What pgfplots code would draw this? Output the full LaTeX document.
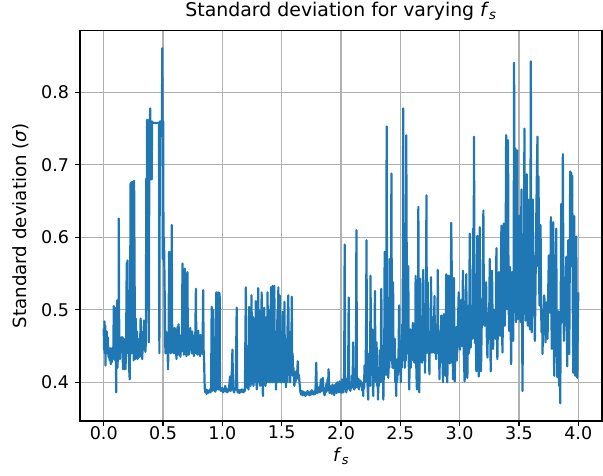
\documentclass[border=0pt]{standalone}
\usepackage{fontspec}
\setmainfont{DejaVu Sans}
\usepackage{pgfplots}
\pgfplotsset{compat=1.18}
\definecolor{mplblue}{HTML}{1F77B4}
\definecolor{mplgrid}{HTML}{B0B0B0}
\begin{document}
\fontsize{17.5}{21}\selectfont
\begin{tikzpicture}
\begin{axis}[
  scale only axis, width=522pt, height=390.5pt,
  xmin=-0.2, xmax=4.2, ymin=0.3465, ymax=0.8855,
  xtick={0,0.5,1,1.5,2,2.5,3,3.5,4},
  ytick={0.4,0.5,0.6,0.7,0.8},
  tick pos=left, tick align=outside,
  major tick length=5pt,
  every tick/.style={black, line width=1.17pt},
  axis line style={line width=1.17pt},
  grid=major, grid style={mplgrid, line width=1.17pt},
  /pgf/number format/.cd, fixed, fixed zerofill, precision=1, assume math mode=true,
  /pgfplots/.cd,
  ticklabel style={font=\fontsize{17.5}{21}\selectfont},
  xticklabel style={yshift=6pt},
  title={Standard deviation for varying \textit{f}\textsubscript{\textit{s}}},
  title style={font=\fontsize{18.9}{22}\selectfont, yshift=-2pt},
  xlabel={\textit{f}\textsubscript{\textit{s}}},
  xlabel style={font=\fontsize{18.2}{21}\selectfont, yshift=3pt},
  ylabel={Standard deviation (\textit{σ})},
  ylabel style={font=\fontsize{18.2}{21}\selectfont},
]
\addplot[mplblue, line width=2.2pt, line join=round, no markers] coordinates {
(0.000,0.474)(0.003,0.445)(0.006,0.484)(0.009,0.440)(0.012,0.478)(0.015,0.423)(0.018,0.470)(0.022,0.455)(0.026,0.470)(0.030,0.440)
(0.035,0.462)(0.040,0.435)(0.045,0.445)(0.050,0.430)(0.055,0.447)(0.060,0.425)(0.065,0.440)(0.070,0.428)(0.075,0.448)(0.080,0.432)
(0.085,0.505)(0.088,0.440)(0.092,0.503)(0.097,0.430)(0.101,0.498)(0.105,0.386)(0.109,0.470)(0.113,0.513)(0.117,0.420)(0.121,0.510)
(0.125,0.440)(0.127,0.626)(0.131,0.440)(0.136,0.432)(0.141,0.450)(0.146,0.460)(0.150,0.462)(0.154,0.445)(0.158,0.462)(0.162,0.418)
(0.168,0.460)(0.172,0.418)(0.178,0.440)(0.183,0.418)(0.188,0.440)(0.194,0.565)(0.197,0.440)(0.200,0.568)(0.205,0.445)(0.210,0.470)
(0.214,0.420)(0.219,0.404)(0.222,0.460)(0.226,0.674)(0.229,0.450)(0.232,0.676)(0.236,0.440)(0.240,0.676)(0.244,0.450)(0.248,0.677)
(0.252,0.430)(0.256,0.678)(0.262,0.490)(0.266,0.432)(0.270,0.488)(0.275,0.436)(0.280,0.470)(0.285,0.432)(0.290,0.460)(0.295,0.434)
(0.300,0.455)(0.305,0.436)(0.311,0.488)(0.315,0.445)(0.320,0.436)(0.325,0.432)(0.330,0.470)(0.335,0.448)(0.339,0.485)(0.343,0.445)
(0.347,0.455)(0.351,0.442)(0.355,0.455)(0.359,0.681)(0.362,0.500)(0.365,0.762)(0.368,0.560)(0.371,0.762)(0.374,0.600)(0.377,0.760)
(0.380,0.455)(0.384,0.700)(0.388,0.760)(0.392,0.778)(0.396,0.680)(0.400,0.760)(0.404,0.680)(0.408,0.760)(0.412,0.758)(0.466,0.758)
(0.469,0.440)(0.473,0.760)(0.480,0.760)(0.485,0.740)(0.490,0.760)(0.494,0.861)(0.498,0.570)(0.501,0.760)(0.504,0.570)(0.508,0.600)
(0.514,0.520)(0.520,0.440)(0.526,0.470)(0.531,0.440)(0.536,0.460)(0.542,0.418)(0.547,0.470)(0.551,0.580)(0.555,0.450)(0.560,0.470)
(0.565,0.440)(0.570,0.500)(0.573,0.617)(0.577,0.470)(0.581,0.441)(0.586,0.460)(0.590,0.440)(0.593,0.441)(0.598,0.475)(0.603,0.440)
(0.608,0.455)(0.613,0.432)(0.621,0.476)(0.626,0.438)(0.631,0.480)(0.636,0.445)(0.641,0.465)(0.646,0.435)(0.650,0.455)(0.655,0.442)
(0.659,0.455)(0.664,0.564)(0.668,0.450)(0.672,0.470)(0.676,0.438)(0.680,0.470)(0.684,0.557)(0.688,0.445)(0.692,0.462)(0.697,0.436)
(0.701,0.455)(0.706,0.552)(0.709,0.445)(0.713,0.470)(0.717,0.438)(0.721,0.452)(0.726,0.445)(0.730,0.475)(0.734,0.448)(0.738,0.455)
(0.742,0.440)(0.746,0.470)(0.750,0.440)(0.755,0.458)(0.760,0.436)(0.765,0.465)(0.770,0.440)(0.777,0.529)(0.781,0.440)(0.786,0.462)
(0.791,0.438)(0.797,0.471)(0.802,0.448)(0.807,0.460)(0.812,0.436)(0.817,0.465)(0.822,0.440)(0.827,0.458)(0.833,0.439)(0.838,0.527)
(0.842,0.445)(0.846,0.430)(0.850,0.400)(0.853,0.388)(0.858,0.386)(0.863,0.390)(0.868,0.384)(0.873,0.389)(0.878,0.385)(0.884,0.388)
(0.889,0.386)(0.895,0.390)(0.900,0.386)(0.905,0.392)(0.910,0.504)(0.913,0.395)(0.918,0.388)(0.924,0.500)(0.928,0.390)(0.935,0.392)
(0.940,0.387)(0.945,0.390)(0.949,0.524)(0.952,0.390)(0.956,0.522)(0.960,0.400)(0.964,0.524)(0.968,0.390)(0.972,0.520)(0.977,0.523)
(0.980,0.395)(0.986,0.388)(0.992,0.390)(1.000,0.392)(1.006,0.386)(1.012,0.390)(1.018,0.388)(1.024,0.395)(1.030,0.387)(1.036,0.391)
(1.042,0.386)(1.048,0.390)(1.054,0.388)(1.065,0.408)(1.070,0.388)(1.076,0.392)(1.085,0.445)(1.090,0.390)(1.095,0.388)(1.100,0.386)
(1.105,0.392)(1.112,0.390)(1.121,0.503)(1.125,0.390)(1.130,0.386)(1.136,0.389)(1.142,0.385)(1.148,0.389)(1.154,0.386)(1.160,0.390)
(1.166,0.387)(1.172,0.390)(1.178,0.386)(1.184,0.389)(1.190,0.388)
(1.198,0.531)(1.202,0.400)(1.206,0.450)(1.212,0.392)(1.216,0.420)(1.220,0.390)(1.226,0.504)(1.230,0.400)(1.234,0.480)(1.238,0.395)
(1.242,0.460)(1.246,0.520)(1.250,0.410)(1.254,0.398)(1.258,0.490)(1.262,0.395)(1.268,0.470)(1.272,0.400)(1.277,0.450)(1.282,0.512)
(1.286,0.400)(1.291,0.390)(1.295,0.460)(1.298,0.400)(1.302,0.530)(1.306,0.410)(1.310,0.500)(1.314,0.400)(1.319,0.395)(1.323,0.470)
(1.327,0.400)(1.331,0.524)(1.335,0.430)(1.338,0.400)(1.342,0.381)(1.346,0.450)(1.350,0.400)(1.353,0.503)(1.357,0.410)(1.361,0.470)
(1.364,0.395)(1.367,0.405)(1.371,0.490)(1.375,0.400)(1.381,0.524)(1.385,0.420)(1.389,0.480)(1.392,0.400)(1.395,0.400)(1.399,0.500)
(1.403,0.400)(1.406,0.460)(1.410,0.531)(1.414,0.410)(1.417,0.500)(1.420,0.400)(1.424,0.533)(1.428,0.410)(1.431,0.480)(1.434,0.400)
(1.438,0.533)(1.442,0.420)(1.446,0.460)(1.452,0.390)(1.456,0.470)(1.460,0.400)(1.464,0.500)(1.468,0.400)(1.472,0.531)(1.476,0.420)
(1.479,0.460)(1.483,0.520)(1.487,0.400)(1.490,0.450)(1.494,0.400)(1.498,0.470)(1.502,0.400)(1.508,0.497)(1.512,0.410)(1.516,0.440)
(1.520,0.400)(1.523,0.511)(1.527,0.420)(1.531,0.460)(1.537,0.393)(1.541,0.450)(1.545,0.400)(1.550,0.480)(1.556,0.520)(1.560,0.410)
(1.564,0.450)(1.568,0.400)(1.573,0.400)(1.577,0.470)(1.581,0.420)(1.585,0.518)(1.589,0.410)(1.592,0.440)(1.596,0.409)(1.600,0.420)
(1.604,0.400)(1.607,0.395)(1.612,0.410)(1.617,0.400)(1.622,0.415)(1.628,0.405)(1.636,0.429)(1.640,0.405)(1.645,0.410)(1.650,0.400)
(1.655,0.390)(1.660,0.385)(1.664,0.383)
(1.670,0.388)(1.676,0.382)(1.682,0.387)(1.688,0.383)(1.694,0.386)(1.700,0.381)(1.706,0.386)(1.712,0.383)(1.718,0.388)(1.724,0.383)
(1.730,0.386)(1.736,0.382)(1.742,0.387)(1.748,0.383)(1.754,0.389)(1.760,0.384)(1.766,0.387)(1.772,0.383)(1.778,0.388)(1.784,0.384)
(1.791,0.427)(1.796,0.390)(1.801,0.385)(1.806,0.392)(1.812,0.386)(1.818,0.394)(1.824,0.386)(1.830,0.404)(1.836,0.388)(1.842,0.400)
(1.847,0.406)(1.852,0.390)(1.857,0.385)(1.862,0.382)(1.867,0.392)(1.872,0.386)(1.877,0.398)(1.882,0.388)(1.887,0.404)(1.891,0.392)
(1.895,0.418)(1.899,0.400)(1.903,0.385)(1.908,0.395)(1.913,0.386)(1.918,0.390)(1.923,0.384)(1.928,0.397)(1.933,0.385)(1.938,0.393)
(1.943,0.382)(1.948,0.396)(1.953,0.387)(1.958,0.398)(1.963,0.385)(1.968,0.400)(1.973,0.388)(1.978,0.396)(1.983,0.386)(1.988,0.401)
(1.993,0.389)(1.998,0.397)
(2.000,0.395)(2.004,0.385)(2.008,0.404)(2.012,0.388)(2.016,0.398)(2.020,0.386)(2.023,0.390)(2.027,0.420)(2.031,0.590)(2.035,0.400)
(2.039,0.392)(2.042,0.405)(2.045,0.386)(2.050,0.400)(2.055,0.390)(2.060,0.410)(2.065,0.517)(2.069,0.400)(2.073,0.395)(2.079,0.388)
(2.084,0.400)(2.089,0.392)(2.094,0.410)(2.098,0.395)(2.102,0.455)(2.106,0.398)(2.111,0.390)(2.116,0.404)(2.120,0.392)(2.126,0.420)
(2.130,0.610)(2.134,0.400)(2.138,0.393)(2.142,0.395)(2.147,0.405)(2.152,0.390)(2.157,0.402)(2.164,0.402)(2.170,0.395)(2.175,0.400)
(2.180,0.388)(2.184,0.398)(2.187,0.381)(2.191,0.400)(2.195,0.392)(2.198,0.423)(2.202,0.400)(2.207,0.420)(2.211,0.460)(2.215,0.596)
(2.219,0.410)(2.224,0.395)(2.229,0.376)(2.233,0.420)(2.237,0.400)(2.241,0.440)(2.245,0.395)(2.249,0.547)(2.253,0.410)(2.258,0.430)
(2.263,0.473)(2.267,0.400)(2.272,0.381)(2.276,0.430)(2.281,0.410)(2.286,0.526)(2.290,0.420)(2.295,0.400)(2.300,0.455)(2.304,0.395)
(2.308,0.420)(2.312,0.376)(2.316,0.410)(2.321,0.395)(2.326,0.444)(2.330,0.400)(2.335,0.420)(2.340,0.529)(2.344,0.410)(2.348,0.400)
(2.352,0.430)(2.357,0.376)(2.361,0.420)(2.365,0.460)(2.368,0.580)(2.372,0.420)(2.376,0.450)(2.380,0.410)(2.385,0.753)(2.389,0.420)
(2.393,0.450)(2.396,0.430)(2.399,0.406)(2.403,0.450)(2.407,0.420)(2.411,0.570)(2.415,0.430)(2.420,0.470)(2.425,0.688)(2.429,0.440)
(2.434,0.420)(2.439,0.538)(2.443,0.420)(2.448,0.440)(2.453,0.460)(2.457,0.400)(2.461,0.430)(2.465,0.381)(2.469,0.420)(2.473,0.400)
(2.476,0.432)(2.480,0.410)(2.485,0.440)(2.490,0.506)(2.494,0.420)(2.499,0.440)(2.504,0.400)(2.508,0.450)(2.512,0.420)(2.516,0.480)
(2.520,0.430)(2.524,0.778)(2.528,0.450)(2.533,0.556)(2.537,0.420)(2.541,0.480)(2.545,0.430)(2.550,0.741)(2.555,0.519)(2.559,0.440)
(2.563,0.460)(2.567,0.560)(2.571,0.430)(2.575,0.390)(2.580,0.440)(2.584,0.473)(2.588,0.420)(2.592,0.450)(2.595,0.432)(2.600,0.460)
(2.606,0.482)(2.610,0.430)(2.614,0.450)(2.618,0.427)(2.622,0.460)(2.626,0.430)(2.629,0.547)(2.633,0.440)(2.636,0.410)(2.640,0.390)
(2.644,0.450)(2.648,0.420)(2.652,0.642)(2.656,0.430)(2.660,0.386)(2.664,0.450)(2.669,0.543)(2.673,0.440)(2.678,0.470)(2.683,0.427)
(2.687,0.460)(2.690,0.430)(2.694,0.555)(2.698,0.450)(2.703,0.480)(2.708,0.413)(2.712,0.460)(2.716,0.440)(2.720,0.658)(2.724,0.450)
(2.727,0.480)(2.731,0.538)(2.735,0.440)(2.740,0.470)(2.745,0.411)(2.749,0.470)(2.754,0.440)(2.759,0.545)(2.763,0.450)(2.768,0.480)
(2.773,0.441)(2.777,0.490)(2.782,0.450)(2.788,0.519)(2.792,0.440)(2.797,0.470)(2.802,0.432)(2.806,0.480)(2.811,0.450)(2.816,0.555)
(2.820,0.440)(2.825,0.470)(2.830,0.404)(2.835,0.460)(2.840,0.440)(2.845,0.492)(2.850,0.427)(2.855,0.470)(2.859,0.400)(2.864,0.480)
(2.867,0.494)(2.873,0.490)(2.876,0.440)(2.881,0.409)(2.885,0.470)(2.887,0.549)(2.892,0.545)(2.896,0.400)(2.901,0.460)(2.907,0.547)
(2.912,0.545)(2.915,0.426)(2.920,0.480)(2.924,0.427)(2.929,0.620)
(2.944,0.404)(2.952,0.544)(2.958,0.401)(2.965,0.450)(2.972,0.476)(2.976,0.430)(2.980,0.445)(2.986,0.480)(2.992,0.524)(2.997,0.460)
(3.003,0.445)(3.008,0.480)(3.014,0.514)(3.020,0.450)(3.028,0.554)(3.035,0.440)(3.042,0.401)(3.049,0.480)(3.056,0.549)(3.060,0.450)
(3.065,0.406)(3.070,0.470)(3.076,0.506)(3.080,0.440)(3.085,0.605)(3.089,0.470)(3.093,0.448)(3.098,0.490)(3.104,0.506)(3.108,0.460)
(3.113,0.612)(3.117,0.480)(3.121,0.739)(3.126,0.500)(3.130,0.454)(3.135,0.470)(3.141,0.415)(3.145,0.490)(3.149,0.602)(3.155,0.450)
(3.161,0.408)(3.165,0.480)(3.169,0.614)(3.175,0.460)(3.180,0.415)(3.186,0.480)(3.192,0.487)(3.196,0.520)(3.200,0.637)(3.205,0.480)
(3.211,0.478)(3.217,0.500)(3.223,0.538)(3.228,0.470)(3.234,0.434)(3.238,0.470)(3.242,0.496)(3.248,0.470)(3.254,0.570)(3.258,0.470)
(3.262,0.415)(3.267,0.480)(3.273,0.554)(3.278,0.480)(3.282,0.446)(3.289,0.500)(3.296,0.499)(3.303,0.460)(3.310,0.585)(3.314,0.480)
(3.318,0.432)(3.324,0.500)(3.330,0.552)(3.335,0.480)(3.341,0.464)(3.346,0.510)(3.352,0.616)(3.356,0.490)(3.361,0.441)(3.366,0.510)
(3.372,0.619)(3.376,0.490)(3.380,0.478)(3.386,0.520)(3.392,0.741)(3.396,0.520)(3.400,0.501)(3.404,0.560)(3.408,0.734)(3.412,0.520)
(3.417,0.471)(3.421,0.500)(3.425,0.559)(3.430,0.480)(3.434,0.425)(3.438,0.500)(3.442,0.552)(3.446,0.490)(3.451,0.457)(3.455,0.530)
(3.459,0.841)(3.463,0.560)(3.468,0.723)(3.472,0.520)(3.476,0.483)(3.481,0.560)(3.485,0.720)(3.489,0.520)(3.493,0.487)(3.498,0.560)
(3.504,0.630)(3.508,0.510)(3.513,0.483)(3.517,0.560)(3.521,0.666)(3.525,0.520)(3.530,0.388)(3.534,0.520)(3.538,0.600)(3.542,0.530)
(3.546,0.750)(3.550,0.560)(3.555,0.485)(3.560,0.560)(3.566,0.687)(3.570,0.530)(3.575,0.478)(3.579,0.560)(3.583,0.652)(3.588,0.520)
(3.592,0.473)(3.596,0.560)(3.600,0.843)(3.604,0.560)(3.608,0.469)(3.612,0.540)(3.617,0.652)(3.621,0.540)(3.625,0.492)(3.630,0.520)
(3.634,0.457)(3.640,0.540)(3.645,0.615)(3.651,0.687)(3.656,0.739)(3.661,0.560)(3.665,0.684)(3.669,0.560)(3.673,0.506)(3.678,0.560)
(3.682,0.617)(3.686,0.520)(3.690,0.469)(3.695,0.500)(3.699,0.439)(3.703,0.500)(3.707,0.473)(3.712,0.520)(3.716,0.513)(3.720,0.480)
(3.724,0.455)(3.728,0.500)(3.732,0.510)(3.737,0.480)(3.741,0.460)(3.746,0.520)(3.752,0.575)(3.756,0.500)(3.761,0.496)(3.765,0.540)
(3.769,0.628)(3.773,0.500)(3.777,0.446)(3.783,0.540)(3.789,0.621)(3.793,0.480)(3.797,0.409)(3.801,0.470)(3.806,0.496)(3.810,0.540)
(3.814,0.612)(3.818,0.470)(3.823,0.407)(3.827,0.460)(3.831,0.498)(3.835,0.450)(3.839,0.395)(3.844,0.430)(3.848,0.371)(3.852,0.500)
(3.856,0.646)(3.860,0.520)(3.865,0.483)(3.868,0.600)(3.870,0.715)(3.875,0.520)(3.879,0.457)(3.883,0.500)(3.887,0.506)(3.893,0.530)
(3.899,0.573)(3.903,0.480)(3.907,0.422)(3.911,0.500)(3.915,0.596)(3.920,0.500)(3.924,0.439)(3.928,0.560)(3.932,0.691)(3.936,0.560)
(3.941,0.689)(3.945,0.560)(3.949,0.685)(3.954,0.500)(3.958,0.413)(3.962,0.520)(3.966,0.629)(3.970,0.500)(3.975,0.409)(3.979,0.520)
(3.983,0.601)(3.987,0.500)(3.992,0.406)(3.996,0.480)(4.000,0.524)
};
\end{axis}
\pgfresetboundingbox
\path[use as bounding box] ([shift={(-80pt,-54pt)}]current axis.south west) rectangle ([shift={(1pt,30.5pt)}]current axis.north east);
\end{tikzpicture}
\end{document}
